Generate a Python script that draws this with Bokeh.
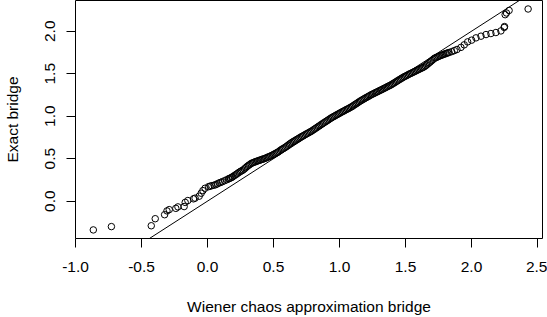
from bokeh.plotting import figure
from bokeh.models import FixedTicker, Slope, Range1d, ColumnDataSource
from bokeh.embed import file_html
from bokeh.resources import INLINE

# Quantile pairs (sparse tails + dense middle band)
wiener_q = [-0.865, -0.728, -0.426, -0.396, -0.325, -0.307, -0.290, -0.240, -0.224, -0.177,
            -0.169, -0.149, -0.106, -0.094, -0.063, -0.048, -0.035, -0.018, 0.008, 0.020,
            0.033, 0.050, 0.063, 0.075, 0.088, 0.100, 0.113, 0.130, 0.146, 0.160,
            0.165, 0.175, 0.184, 0.190,
            0.20, 0.21, 0.22, 0.23, 0.24, 0.25, 0.26, 0.27, 0.28, 0.29,
            0.30, 0.31, 0.32, 0.33, 0.34, 0.35, 0.36, 0.37, 0.38, 0.39,
            0.40, 0.41, 0.42, 0.43, 0.44, 0.45, 0.46, 0.47, 0.48, 0.49,
            0.50, 0.51, 0.52, 0.53, 0.54, 0.55, 0.56, 0.57, 0.58, 0.59,
            0.60, 0.61, 0.62, 0.63, 0.64, 0.65, 0.66, 0.67, 0.68, 0.69,
            0.70, 0.71, 0.72, 0.73, 0.74, 0.75, 0.76, 0.77, 0.78, 0.79,
            0.80, 0.81, 0.82, 0.83, 0.84, 0.85, 0.86, 0.87, 0.88, 0.89,
            0.90, 0.91, 0.92, 0.93, 0.94, 0.95, 0.96, 0.97, 0.98, 0.99,
            1.00, 1.01, 1.02, 1.03, 1.04, 1.05, 1.06, 1.07, 1.08, 1.09,
            1.10, 1.11, 1.12, 1.13, 1.14, 1.15, 1.16, 1.17, 1.18, 1.19,
            1.20, 1.21, 1.22, 1.23, 1.24, 1.25, 1.26, 1.27, 1.28, 1.29,
            1.30, 1.31, 1.32, 1.33, 1.34, 1.35, 1.36, 1.37, 1.38, 1.39,
            1.40, 1.41, 1.42, 1.43, 1.44, 1.45, 1.46, 1.47, 1.48, 1.49,
            1.50, 1.51, 1.52, 1.53, 1.54, 1.55, 1.56, 1.57, 1.58, 1.59,
            1.60, 1.61, 1.62, 1.63, 1.64, 1.65, 1.66, 1.67, 1.68, 1.69,
            1.70, 1.71, 1.72, 1.73, 1.74, 1.75, 1.76, 1.77, 1.78, 1.79,
            1.80, 1.81, 1.82, 1.83,
            1.850, 1.870, 1.890, 1.920, 1.945, 1.971, 2.001, 2.034, 2.072, 2.110,
            2.147, 2.185, 2.223, 2.248, 2.250, 2.255, 2.265, 2.285, 2.429]
exact_q = [-0.339, -0.300, -0.290, -0.207, -0.160, -0.115, -0.100, -0.085, -0.068, -0.064,
           -0.015, 0.007, 0.027, 0.035, 0.058, 0.093, 0.124, 0.152, 0.170, 0.176,
           0.182, 0.188, 0.194, 0.204, 0.214, 0.221, 0.229, 0.241, 0.252, 0.262,
           0.266, 0.273, 0.280, 0.286,
           0.297, 0.307, 0.318, 0.329, 0.340, 0.350, 0.358, 0.367, 0.380, 0.394,
           0.408, 0.420, 0.431, 0.442, 0.450, 0.456, 0.462, 0.468, 0.473, 0.479,
           0.484, 0.490, 0.495, 0.500, 0.506, 0.513, 0.520, 0.526, 0.533, 0.540,
           0.549, 0.557, 0.566, 0.574, 0.584, 0.596, 0.607, 0.616, 0.625, 0.635,
           0.646, 0.658, 0.670, 0.681, 0.692, 0.701, 0.710, 0.720, 0.729, 0.738,
           0.748, 0.757, 0.766, 0.774, 0.783, 0.792, 0.800, 0.809, 0.817, 0.826,
           0.837, 0.847, 0.858, 0.868, 0.879, 0.889, 0.900, 0.910, 0.921, 0.931,
           0.941, 0.951, 0.962, 0.972, 0.982, 0.991, 0.999, 1.008, 1.017, 1.025,
           1.034, 1.043, 1.051, 1.059, 1.068, 1.076, 1.084, 1.092, 1.101, 1.109,
           1.119, 1.130, 1.140, 1.150, 1.160, 1.171, 1.181, 1.190, 1.199, 1.208,
           1.217, 1.225, 1.234, 1.243, 1.252, 1.260, 1.267, 1.275, 1.283, 1.290,
           1.298, 1.306, 1.313, 1.321, 1.329, 1.337, 1.345, 1.353, 1.361, 1.368,
           1.378, 1.388, 1.397, 1.407, 1.417, 1.427, 1.436, 1.446, 1.455, 1.464,
           1.472, 1.480, 1.488, 1.497, 1.504, 1.511, 1.519, 1.527, 1.534, 1.542,
           1.550, 1.557, 1.565, 1.572, 1.580, 1.591, 1.603, 1.616, 1.629, 1.642,
           1.655, 1.669, 1.682, 1.689, 1.696, 1.703, 1.710, 1.716, 1.722, 1.728,
           1.734, 1.739, 1.745, 1.750,
           1.760, 1.772, 1.785, 1.810, 1.840, 1.875, 1.895, 1.922, 1.942, 1.961,
           1.973, 1.985, 2.004, 2.045, 2.055, 2.195, 2.215, 2.245, 2.262]

x_ticks = [-1.0, -0.5, 0.0, 0.5, 1.0, 1.5, 2.0, 2.5]
x_tick_labels = ["-1.0", "-0.5", "0.0", "0.5", "1.0", "1.5", "2.0", "2.5"]
y_ticks = [0.0, 0.5, 1.0, 1.5, 2.0]
y_tick_labels = ["0.0", "0.5", "1.0", "1.5", "2.0"]

ref_intercept = 0.0
ref_slope = 1.0

FONT = "Liberation Sans"
FS = "15.5px"

p = figure(width=547, height=317, output_backend="svg", toolbar_location=None,
           x_range=Range1d(-1.0, 2.538), y_range=Range1d(-0.44, 2.362),
           min_border_left=73, min_border_right=5, min_border_top=0, min_border_bottom=77)
p.xgrid.visible = False
p.ygrid.visible = False
p.background_fill_color = "white"
p.border_fill_color = "white"
p.outline_line_color = "black"
p.outline_line_width = 1
p.outline_line_alpha = 1.0

src = ColumnDataSource(data=dict(x=wiener_q, y=exact_q))
p.scatter("x", "y", source=src, size=6.5, fill_color=None, line_color="black", line_width=1)
p.add_layout(Slope(gradient=ref_slope, y_intercept=ref_intercept, line_color="black", line_width=1))

p.xaxis.ticker = FixedTicker(ticks=x_ticks)
p.xaxis.major_label_overrides = {t: l for t, l in zip(x_ticks, x_tick_labels)}
p.yaxis.ticker = FixedTicker(ticks=y_ticks)
p.yaxis.major_label_overrides = {t: l for t, l in zip(y_ticks, y_tick_labels)}
p.yaxis.major_label_orientation = "vertical"

for ax in (p.xaxis[0], p.yaxis[0]):
    ax.axis_line_color = None
    ax.major_tick_in = 0
    ax.major_tick_out = 9
    ax.major_tick_line_color = "black"
    ax.minor_tick_line_color = None
    ax.major_label_text_font = FONT
    ax.major_label_text_font_size = FS
    ax.major_label_text_color = "black"
    ax.axis_label_text_font = FONT
    ax.axis_label_text_font_size = FS
    ax.axis_label_text_font_style = "normal"
    ax.axis_label_text_color = "black"

p.xaxis.axis_label = "Wiener chaos approximation bridge"
p.yaxis.axis_label = "Exact bridge"
p.xaxis.major_label_standoff = 14
p.xaxis.axis_label_standoff = 23
p.yaxis.major_label_standoff = 11
p.yaxis.axis_label_standoff = 22

open("out.html", "w").write(file_html(p, INLINE))
